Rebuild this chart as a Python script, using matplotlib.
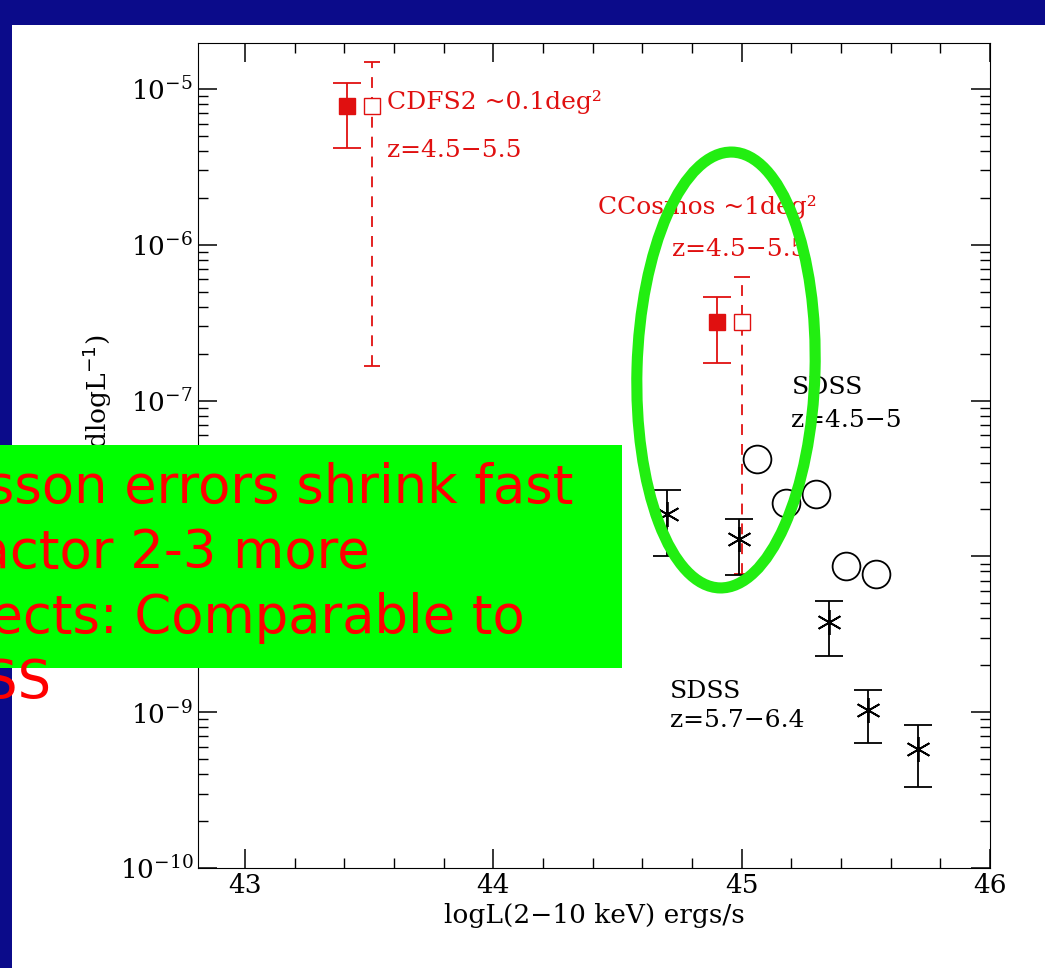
import matplotlib.pyplot as plt
from matplotlib.patches import Rectangle, Ellipse

# CDFS2 / CCosmos points (filled = measured, open = upper bound)
cdfs_x = [43.41, 43.51]
cdfs_y = 7.8e-6
cdfs_err = (4.2e-6, 1.1e-5)
cdfs_open_err = (1.66e-7, 1.5e-5)

ccos_x = [44.9, 45.0]
ccos_y = 3.2e-7
ccos_err = (1.75e-7, 4.6e-7)
ccos_open_err = (7.7e-9, 6.2e-7)

# SDSS z=4.5-5 (open circles)
sdss1_x = [45.06, 45.18, 45.30, 45.42, 45.54]
sdss1_y = [4.2e-8, 2.2e-8, 2.5e-8, 8.7e-9, 7.7e-9]

# SDSS z=5.7-6.4 (stars with errors)
sdss2_x = [44.70, 44.99, 45.35, 45.51, 45.71]
sdss2_y = [1.86e-8, 1.29e-8, 3.8e-9, 1.03e-9, 5.8e-10]
sdss2_lo = [1.0e-8, 7.55e-9, 2.29e-9, 6.3e-10, 3.3e-10]
sdss2_hi = [2.65e-8, 1.75e-8, 5.2e-9, 1.38e-9, 8.3e-10]

W, H = 1045, 968
fig = plt.figure(figsize=(W / 100, H / 100), dpi=100, facecolor="#0b0b8a")
fig.patches.append(Rectangle((12 / W, 0), 1, 1 - 25 / H, transform=fig.transFigure,
                             facecolor="white", zorder=0))

ax = fig.add_axes([198 / W, 1 - 868 / H, 792 / W, 825 / H], zorder=2)
ax.set_facecolor("white")
ax.set_yscale("log")
ax.set_xlim(42.81, 46.0)
ax.set_ylim(1e-10, 10 ** -4.705)
serif = "DejaVu Serif"
red = "#e01010"


def err(x, y, lo, hi, color):
    ax.errorbar([x], [y], yerr=[[y - lo], [hi - y]], fmt="none", ecolor=color,
                elinewidth=1.3, capsize=10, capthick=1.3)


err(cdfs_x[0], cdfs_y, *cdfs_err, red)
eb = ax.errorbar([cdfs_x[1]], [cdfs_y], yerr=[[cdfs_y - cdfs_open_err[0]], [cdfs_open_err[1] - cdfs_y]],
                 fmt="none", ecolor=red, elinewidth=1.3, capsize=6, capthick=1.3)
eb[2][0].set_linestyle((0, (6, 5)))
err(ccos_x[0], ccos_y, *ccos_err, red)
eb = ax.errorbar([ccos_x[1]], [ccos_y], yerr=[[ccos_y - ccos_open_err[0]], [ccos_open_err[1] - ccos_y]],
                 fmt="none", ecolor=red, elinewidth=1.3, capsize=6, capthick=1.3)
eb[2][0].set_linestyle((0, (6, 5)))
ax.plot([cdfs_x[0], ccos_x[0]], [cdfs_y, ccos_y], "s", color=red, ms=12, ls="none")
ax.plot([cdfs_x[1], ccos_x[1]], [cdfs_y, ccos_y], "s", mfc="white", mec=red, ms=12, ls="none")

ax.plot(sdss1_x, sdss1_y, "o", mfc="white", mec="black", ms=20, mew=1.3, ls="none")
for x, y, lo, hi in zip(sdss2_x, sdss2_y, sdss2_lo, sdss2_hi):
    err(x, y, lo, hi, "black")
ax.plot(sdss2_x, sdss2_y, marker=(6, 2, 0), color="black", ms=18, mew=1.3, ls="none")

ax.text(43.57, 8.3e-6, "CDFS2 ~0.1deg²", color=red, fontsize=18, family=serif, va="center")
ax.text(43.57, 4.0e-6, "z=4.5−5.5", color=red, fontsize=18, family=serif, va="center")
ax.text(44.42, 1.75e-6, "CCosmos ~1deg²", color=red, fontsize=18, family=serif, va="center")
ax.text(44.72, 9.3e-7, "z=4.5−5.5", color=red, fontsize=18, family=serif, va="center")
ax.text(45.2, 1.21e-7, "SDSS", color="black", fontsize=18, family=serif, va="center")
ax.text(45.2, 7.5e-8, "z=4.5−5", color="black", fontsize=18, family=serif, va="center")
ax.text(44.71, 1.35e-9, "SDSS", color="black", fontsize=18, family=serif, va="center")
ax.text(44.71, 8.8e-10, "z=5.7−6.4", color="black", fontsize=18, family=serif, va="center")

ax.set_xticks([43, 44, 45, 46])
ax.set_xticks([42.8 + 0.2 * i for i in range(17) if 42.81 < 42.8 + 0.2 * i < 46], minor=True)
ax.tick_params(which="both", direction="in", top=True, right=True, labelsize=19)
ax.tick_params(which="major", length=14, width=1.1)
ax.tick_params(which="minor", length=7, width=1.0)
for lab in ax.get_xticklabels() + ax.get_yticklabels():
    lab.set_family(serif)
ax.set_xlabel("logL(2−10 keV) ergs/s", fontsize=19, family=serif)
ax.set_ylabel("Φ(Mpc$^{-3}$ dlogL$^{-1}$)", fontsize=19, family=serif)

# slide overlays
fig.patches.append(Ellipse((726 / W, 1 - 370 / H), 178 / W, 436 / H, angle=-1.5,
                           transform=fig.transFigure, fill=False, edgecolor="#22ee11",
                           linewidth=8, zorder=5))
fig.patches.append(Rectangle((0, 1 - 668 / H), 622 / W, 223 / H, transform=fig.transFigure,
                             facecolor="#00ff00", edgecolor="none", zorder=6))
lines = ["Poisson errors shrink fast", "a factor 2-3 more", "objects: Comparable to", "SDSS"]
for i, t in enumerate(lines):
    fig.text(-90 / W, 1 - (488 + 65 * i) / H, t, color="red", fontsize=38, va="center",
             family="DejaVu Sans", zorder=7)

fig.savefig("out.png", dpi=100, facecolor=fig.get_facecolor())
